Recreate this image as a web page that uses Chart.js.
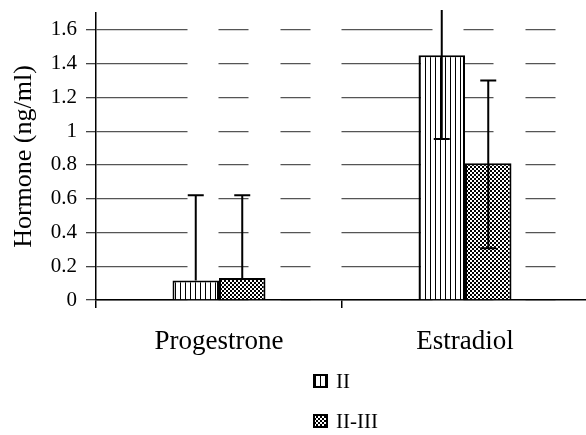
<!DOCTYPE html>
<html>
<head>
<meta charset="utf-8">
<script src="https://cdn.jsdelivr.net/npm/chart.js@4/dist/chart.umd.min.js"></script>
<style>
  html, body { margin: 0; padding: 0; background: #fff; overflow: hidden; }
  #wrap { width: 590px; height: 435px; }
</style>
</head>
<body>
<div id="wrap"><canvas id="c" width="590" height="435"></canvas></div>
<script>
// ---- data ----
const categories = ['Progestrone', 'Estradiol'];
const seriesLabels = ['II', 'II-III'];
const valuesII = [0.115, 1.45];
const valuesIIIII = [0.13, 0.81];
const errPlusII = [0.505, 0.5];
const errMinusII = [0, 0.497];
const errPlusIIIII = [0.49, 0.49];
const errMinusIIIII = [0, 0.504];
const yTickMax = 1.7;
const yTickStep = 0.2;

const canvas = document.getElementById('c');
const ctx = canvas.getContext('2d');

function stripePattern() {
  const c = document.createElement('canvas');
  c.width = 5; c.height = 1;
  const g = c.getContext('2d');
  g.fillStyle = '#fff'; g.fillRect(0, 0, 5, 1);
  g.fillStyle = '#000'; g.fillRect(0, 0, 1, 1);
  return ctx.createPattern(c, 'repeat');
}
function checkerPattern() {
  const c = document.createElement('canvas');
  c.width = 4; c.height = 4;
  const g = c.getContext('2d');
  g.fillStyle = '#fff'; g.fillRect(0, 0, 4, 4);
  g.fillStyle = '#000'; g.fillRect(0, 0, 2, 2); g.fillRect(2, 2, 2, 2);
  return ctx.createPattern(c, 'repeat');
}
const fills = [stripePattern(), checkerPattern()];

const errorBars = {
  id: 'errorBars',
  afterDatasetsDraw(chart) {
    const c = chart.ctx, y = chart.scales.y, a = chart.chartArea;
    c.save();
    c.beginPath();
    c.rect(a.left, a.top - 3, a.right - a.left, a.bottom - a.top + 3);
    c.clip();
    c.strokeStyle = '#000';
    c.lineWidth = 2;
    chart.data.datasets.forEach((ds, di) => {
      const meta = chart.getDatasetMeta(di);
      meta.data.forEach((bar, i) => {
        const v = ds.data[i];
        const hi = v + ds.errPlus[i];
        const lo = v - ds.errMinus[i];
        const x = bar.x;
        const yHi = y.getPixelForValue(hi);
        const yLo = y.getPixelForValue(lo);
        c.beginPath();
        c.moveTo(x, yLo); c.lineTo(x, yHi);
        if (hi <= y.max) { c.moveTo(x - 8, yHi); c.lineTo(x + 8, yHi); }
        if (ds.errMinus[i] > 0) { c.moveTo(x - 8, yLo); c.lineTo(x + 8, yLo); }
        c.stroke();
      });
    });
    c.restore();
  }
};

const stackedLegend = {
  id: 'stackedLegend',
  afterDraw(chart) {
    const c = chart.ctx, a = chart.chartArea, xs = chart.scales.x;
    const left = (a.left + a.right) / 2 - 29;
    const rowGap = 40;
    c.save();
    c.font = '21px "Liberation Serif"';
    c.textBaseline = 'middle';
    c.textAlign = 'left';
    chart.data.datasets.forEach((ds, i) => {
      const cy = xs.bottom + 26 + i * rowGap;
      c.fillStyle = ds.backgroundColor;
      c.fillRect(left, cy - 7, 15, 14);
      c.lineWidth = 2;
      c.strokeStyle = '#000';
      c.strokeRect(left + 1, cy - 6, 13, 12);
      c.fillStyle = '#000';
      c.fillText(ds.label, left + 23, cy + 1);
    });
    c.restore();
  }
};

new Chart(canvas, {
  type: 'bar',
  data: {
    labels: categories,
    datasets: [
      { label: seriesLabels[0], data: valuesII, errPlus: errPlusII, errMinus: errMinusII,
        backgroundColor: fills[0], borderColor: '#000', borderWidth: 2 },
      { label: seriesLabels[1], data: valuesIIIII, errPlus: errPlusIIIII, errMinus: errMinusIIIII,
        backgroundColor: fills[1], borderColor: '#000', borderWidth: 2 }
    ]
  },
  options: {
    responsive: false,
    animation: false,
    devicePixelRatio: 1,
    datasets: { bar: { categoryPercentage: 0.378, barPercentage: 1 } },
    layout: { padding: { top: 13, right: 2, bottom: 80, left: 0 } },
    plugins: { legend: { display: false }, tooltip: { enabled: false } },
    scales: {
      x: {
        offset: true,
        grid: { drawOnChartArea: false, drawTicks: true, tickLength: 8, color: '#000', lineWidth: 1.5 },
        border: { color: '#000', width: 1.5 },
        ticks: { color: '#000', padding: 18, font: { family: 'Liberation Serif', size: 27 } },
        afterFit(s) { s.height = 55; s.paddingLeft = 0; s.paddingRight = 0; }
      },
      y: {
        min: 0, max: yTickMax,
        grid: { color: '#555', lineWidth: 1.3, tickLength: 10, tickColor: '#444' },
        border: { color: '#000', width: 1.5, dash: [91, 31, 30, 32, 30, 31] },
        ticks: { stepSize: yTickStep, includeBounds: false, color: '#000', padding: 9,
                 font: { family: 'Liberation Serif', size: 21 },
                 callback: (v) => String(Number(v.toFixed(2))) },
        title: { display: true, text: 'Hormone (ng/ml)', color: '#000',
                 font: { family: 'Liberation Serif', size: 26 }, padding: { top: 9, bottom: 0 } },
        afterFit(s) { s.width = 96; s.paddingTop = 0; s.paddingBottom = 0; }
      }
    }
  },
  plugins: [errorBars, stackedLegend]
});
</script>
</body>
</html>
